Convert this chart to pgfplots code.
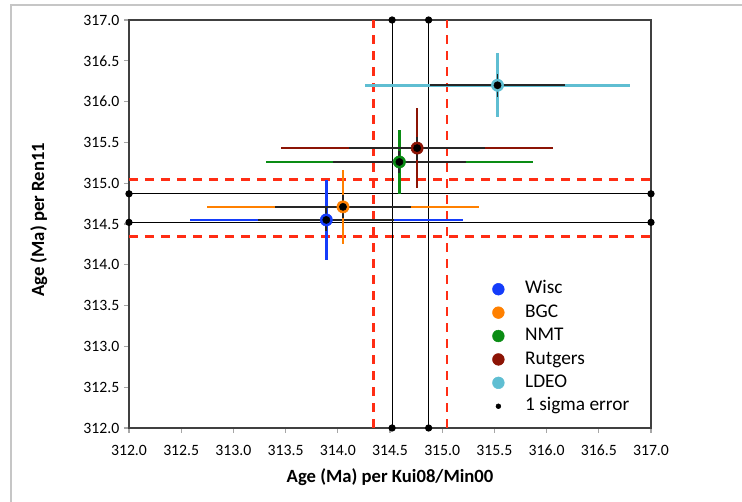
\documentclass[border=0pt]{standalone}
\usepackage{pgfplots}
\pgfplotsset{compat=1.18}
\usepackage{fontspec}
\setmainfont{Carlito}
\definecolor{wisc}{RGB}{20,60,250}
\definecolor{bgc}{RGB}{255,128,0}
\definecolor{nmt}{RGB}{10,140,20}
\definecolor{rut}{RGB}{140,20,5}
\definecolor{ldeo}{RGB}{95,190,210}
\definecolor{reddash}{RGB}{255,45,20}
\pgfplotsset{
  colerr/.style={draw=none, forget plot, error bars/.cd, x dir=both, x explicit, y dir=both, y explicit, error mark=none, error bar style={line width=2pt, #1}},
  blkerr/.style={draw=none, forget plot, error bars/.cd, x dir=both, x explicit, y dir=both, y explicit, error mark=none, error bar style={line width=1.4pt, black!85}},
  colmark/.style={only marks, forget plot, mark=*, mark size=4.6pt, mark options={draw=#1, fill=#1}},
  blkmark/.style={only marks, forget plot, mark=*, mark size=2.7pt, mark options={draw=black, fill=black}},
  legdot/.style={legend image code/.code={\path[draw=none,fill=none] (-4.4pt,-4.4pt) rectangle (4.4pt,4.4pt); \fill[#1] (0,0) circle (4.4pt);}},
}
\begin{document}
\begin{tikzpicture}
\useasboundingbox (-96.75pt,-55.5pt) rectangle (459.75pt,321pt);
\draw[gray!45, line width=1.1pt] (-88.5pt,-60pt) -- (-88.5pt,317.25pt) -- (465pt,317.25pt);
\begin{axis}[
  at={(0,0)}, anchor=south west,
  scale only axis, width=391.5pt, height=306pt,
  xmin=312, xmax=317, ymin=312, ymax=317,
  xtick={312,312.5,...,317}, ytick={312,312.5,...,317},
  xtick pos=lower, ytick pos=left, tick align=outside,
  major tick length=3.75pt,
  tick style={gray!70, line width=0.8pt},
  axis line style={black!75, line width=1pt},
  /pgf/number format/.cd, fixed, fixed zerofill, precision=1, assume math mode=true,
  /pgfplots/.cd,
  ticklabel style={font=\fontsize{11.8}{13}\selectfont},
  xticklabel style={yshift=-5.5pt},
  xlabel={\bfseries Age (Ma) per Kui08/Min00},
  ylabel={\bfseries Age (Ma) per Ren11},
  label style={font=\fontsize{14}{17}\selectfont},
  xlabel style={at={(axis description cs:0.5,-0.12)}, anchor=center},
  ylabel style={at={(axis description cs:-0.173,0.51)}, anchor=center},
  legend style={draw=none, fill=none, at={(0.6954,0.362)}, anchor=north west,
    font=\fontsize{14.5}{17}\selectfont, row sep=4.55pt, inner sep=0pt,
    nodes={inner sep=0pt, text height=10pt, text depth=3pt},
    /tikz/every odd column/.append style={column sep=15.5pt}},
  legend cell align=left,
  clip=false,
]
% red dashed 2-sigma bounds
\addplot[forget plot, reddash, line width=2pt, dash pattern=on 7pt off 5pt] coordinates {(314.345,312) (314.345,317)};
\addplot[forget plot, reddash, line width=2pt, dash pattern=on 7pt off 5pt] coordinates {(315.045,312) (315.045,317)};
\addplot[forget plot, reddash, line width=2pt, dash pattern=on 7pt off 5pt] coordinates {(312,314.345) (317,314.345)};
\addplot[forget plot, reddash, line width=2pt, dash pattern=on 7pt off 5pt] coordinates {(312,315.045) (317,315.045)};
% 1 sigma lines
\addplot[forget plot, black, line width=0.8pt, mark=*, mark size=2.3pt] coordinates {(314.52,312) (314.52,317)};
\addplot[forget plot, black, line width=0.8pt, mark=*, mark size=2.3pt] coordinates {(314.87,312) (314.87,317)};
\addplot[forget plot, black, line width=0.8pt, mark=*, mark size=2.3pt] coordinates {(312,314.52) (317,314.52)};
\addplot[forget plot, black, line width=0.8pt, mark=*, mark size=2.3pt] coordinates {(312,314.87) (317,314.87)};
% Wisc
\addplot[colerr=wisc] coordinates {(313.89,314.55) +- (1.31,0.49)};
\addplot[blkerr] coordinates {(313.89,314.55) +- (0.65,0.14)};
\addplot[colmark=wisc] coordinates {(313.89,314.55)};
\addplot[blkmark] coordinates {(313.89,314.55)};
% BGC
\addplot[colerr=bgc] coordinates {(314.05,314.71) +- (1.30,0.45)};
\addplot[blkerr] coordinates {(314.05,314.71) +- (0.65,0.14)};
\addplot[colmark=bgc] coordinates {(314.05,314.71)};
\addplot[blkmark] coordinates {(314.05,314.71)};
% NMT
\addplot[colerr=nmt] coordinates {(314.59,315.26) +- (1.28,0.39)};
\addplot[blkerr] coordinates {(314.59,315.26) +- (0.64,0.14)};
\addplot[colmark=nmt] coordinates {(314.59,315.26)};
\addplot[blkmark] coordinates {(314.59,315.26)};
% Rutgers
\addplot[colerr=rut] coordinates {(314.76,315.43) +- (1.30,0.49)};
\addplot[blkerr] coordinates {(314.76,315.43) +- (0.65,0.14)};
\addplot[colmark=rut] coordinates {(314.76,315.43)};
\addplot[blkmark] coordinates {(314.76,315.43)};
% LDEO
\addplot[colerr=ldeo] coordinates {(315.53,316.20) +- (1.27,0.39)};
\addplot[blkerr] coordinates {(315.53,316.20) +- (0.65,0.14)};
\addplot[colmark=ldeo] coordinates {(315.53,316.20)};
\addplot[blkmark] coordinates {(315.53,316.20)};
% legend
\addlegendimage{legdot=wisc}
\addlegendentry{Wisc}
\addlegendimage{legdot=bgc}
\addlegendentry{BGC}
\addlegendimage{legdot=nmt}
\addlegendentry{NMT}
\addlegendimage{legdot=rut}
\addlegendentry{Rutgers}
\addlegendimage{legdot=ldeo}
\addlegendentry{LDEO}
\addlegendimage{legend image code/.code={\path[draw=none,fill=none] (-4.4pt,-4.4pt) rectangle (4.4pt,4.4pt); \fill[black] (0,0) circle (1.8pt);}}
\addlegendentry{1 sigma error}
\end{axis}
\end{tikzpicture}
\end{document}
